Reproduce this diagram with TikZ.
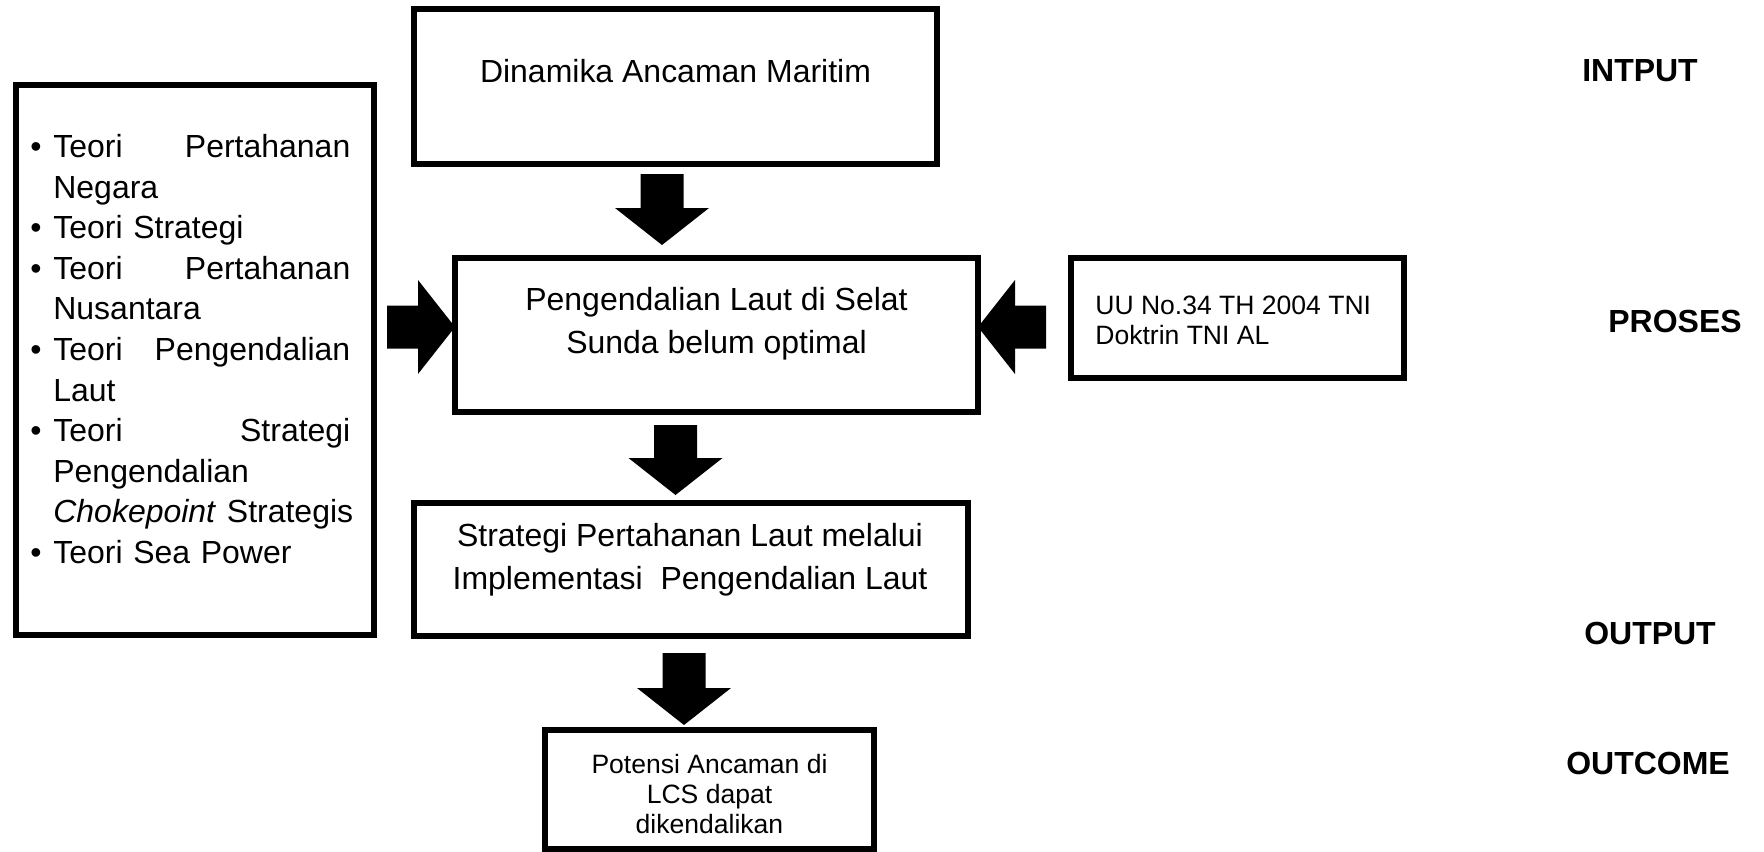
\documentclass[tikz,border=0pt]{standalone}
\usepackage{fontspec}
\setmainfont{Liberation Sans}
\usetikzlibrary{arrows.meta,calc}

\tikzset{
  kotak/.style={draw, line width=0.12cm, inner sep=0pt, outer sep=0pt},
  teks/.style={align=center, inner sep=0pt, font=\fontsize{18.2}{24.4}\selectfont},
  tekskecil/.style={inner sep=0pt, font=\fontsize{15.1}{17.2}\selectfont},
  tahap/.style={inner sep=0pt, font=\fontsize{18.2}{22}\selectfont\bfseries},
  panah/.style={line width=0.86cm, -{Triangle[length=0.74cm, width=1.88cm, line width=0pt]}}
}
\newcommand{\butir}{\makebox[0.46cm][l]{\textbullet}}
\newcommand{\sisip}{\hspace*{0.46cm}}

\begin{document}
\begin{tikzpicture}
    \useasboundingbox (0, 0) rectangle (35.28, -17.02);

    % kotak-kotak
    \node[kotak, minimum width=10.46cm, minimum height=3.10cm] (dinamika) at (13.51, -1.73) {};
    \node[kotak, minimum width=10.46cm, minimum height=3.08cm] (pengendalian) at (14.33, -6.70) {};
    \node[kotak, minimum width=11.08cm, minimum height=2.66cm] (strategi) at (13.82, -11.39) {};
    \node[kotak, minimum width=6.58cm, minimum height=2.38cm] (potensi) at (14.19, -15.79) {};
    \node[kotak, minimum width=6.66cm, minimum height=2.40cm] (uu) at (24.75, -6.36) {};
    \node[kotak, minimum width=7.16cm, minimum height=11.00cm] (teori) at (3.90, -7.20) {};

    % isi kotak
    \node[teks] (dinamikateks) at (13.51, -1.42) {Dinamika Ancaman Maritim};
    \node[teks] (pengendalianteks) at (14.33, -6.48) {Pengendalian Laut di Selat\\Sunda belum optimal};
    \node[teks] (strategiteks) at (13.80, -11.20) {Strategi Pertahanan Laut melalui\\Implementasi\ \ Pengendalian Laut};
    \node[tekskecil, align=center] (potensiteks) at (14.19, -15.88) {Potensi Ancaman di\\LCS dapat\\dikendalikan};
    \node[tekskecil, align=left, anchor=west] (uuteks) at (21.90, -6.40) {UU No.34 TH 2004 TNI\\Doktrin TNI AL};
    \node[teks, align=left, text width=6.40cm, anchor=north west, font=\fontsize{18.2}{23.1}\selectfont] (teoriteks) at (0.60, -2.68) {%
        \butir Teori\hfill Pertahanan\\
        \sisip Negara\\
        \butir Teori Strategi\\
        \butir Teori\hfill Pertahanan\\
        \sisip Nusantara\\
        \butir Teori\hfill Pengendalian\\
        \sisip Laut\\
        \butir Teori\hfill Strategi\\
        \sisip Pengendalian\\
        \sisip \mbox{\textit{Chokepoint} Strategis}\\
        \butir Teori Sea Power};

    % tahapan
    \node[tahap] (input) at (32.80, -1.42) {INTPUT};
    \node[tahap] (proses) at (33.50, -6.42) {PROSES};
    \node[tahap] (output) at (33.00, -12.66) {OUTPUT};
    \node[tahap] (outcome) at (32.96, -15.26) {OUTCOME};

    % panah blok
    \draw[panah] ($(dinamika.south)+(-0.27, -0.20)$) -- ($(pengendalian.north)+(-1.09, 0.26)$);
    \draw[panah] ($(pengendalian.south)+(-0.82, -0.26)$) -- ($(strategi.north)+(-0.31, 0.16)$);
    \draw[panah] ($(strategi.south)+(-0.14, -0.34)$) -- ($(potensi.north)+(-0.51, 0.10)$);
    \draw[panah] ($(teori.east)+(0.26, 0.66)$) -- ($(pengendalian.west)+(0, 0.16)$);
    \draw[panah] ($(uu.west)+(-0.50, -0.18)$) -- ($(pengendalian.east)+(0, 0.16)$);
\end{tikzpicture}
\end{document}
